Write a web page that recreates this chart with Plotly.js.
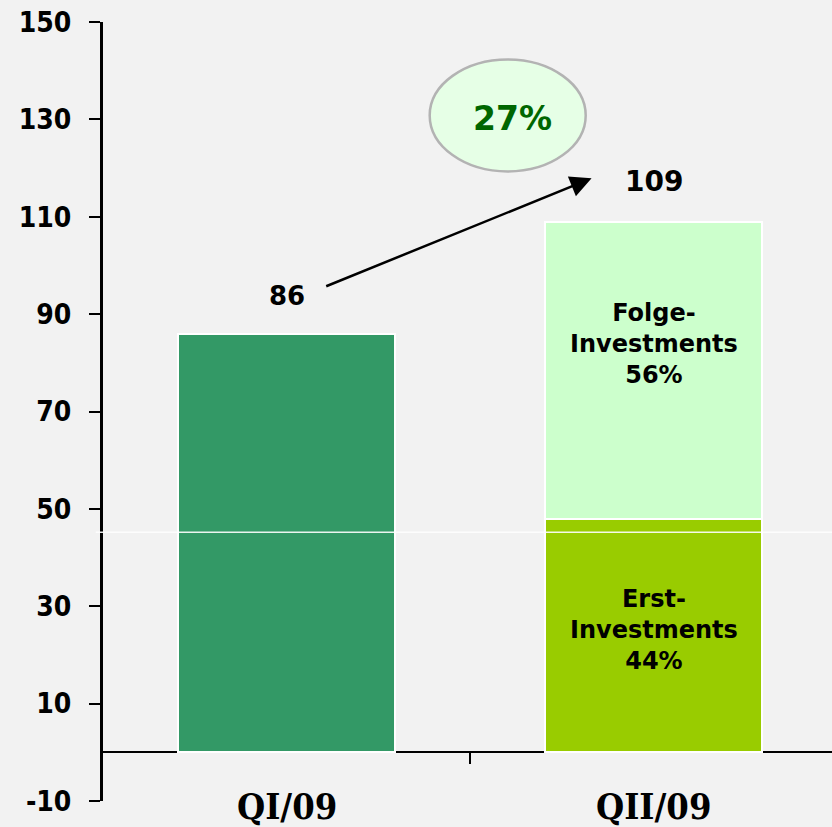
<!DOCTYPE html>
<html>
<head>
<meta charset="utf-8">
<script src="https://cdn.plot.ly/plotly-3.0.1.min.js"></script>
<style>html,body{margin:0;padding:0;background:#f2f2f2;}#chart{width:832px;height:827px;}</style>
</head>
<body>
<div id="chart"></div>
<script>
// Data
const categories = ['QI/09', 'QII/09'];
const qiTotal = [86, null];
const erstInvest = [null, 48];
const folgeInvest = [null, 61];
const totals = [86, 109];
const segmentLabels = ['Erst-<br>Investments<br>44%', 'Folge-<br>Investments<br>56%'];
const growthLabel = '27%';
const yTicks = [-10, 10, 30, 50, 70, 90, 110, 130, 150];
const yTickText = ['-10', '10', '30', '50', '70', '90', '110', '130', '150'];

const sansBold = 'DejaVu Sans';
const barLine = {color: '#ffffff', width: 2};

const traces = [
  {type: 'bar', x: categories, y: qiTotal, marker: {color: '#339966', line: barLine}, width: 0.59, hoverinfo: 'skip'},
  {type: 'bar', x: categories, y: erstInvest, marker: {color: '#99cc00', line: barLine}, width: 0.59, hoverinfo: 'skip'},
  {type: 'bar', x: categories, y: folgeInvest, marker: {color: '#ccffcc', line: barLine}, width: 0.59, hoverinfo: 'skip'},
  // helper trace for tick mark on zero line
  {type: 'scatter', x: [0.5], y: [0], xaxis: 'x2', yaxis: 'y', mode: 'markers', marker: {opacity: 0}, hoverinfo: 'skip', showlegend: false}
];

const annotations = [];
// category labels
categories.forEach(function (c, i) {
  annotations.push({x: i, y: 0, xref: 'x', yref: 'paper', text: c, showarrow: false, yanchor: 'middle', yshift: -5,
    font: {family: 'DejaVu Serif Condensed', size: 36, color: '#000', weight: 'bold'}});
});
// totals above bars
annotations.push({x: 0, y: totals[0], xref: 'x', yref: 'y', text: String(totals[0]), showarrow: false, yshift: 38,
  font: {family: sansBold, size: 26, color: '#000', weight: 'bold'}});
annotations.push({x: 1, y: totals[1], xref: 'x', yref: 'y', text: String(totals[1]), showarrow: false, yshift: 40,
  font: {family: sansBold, size: 28, color: '#000', weight: 'bold'}});
// segment labels
annotations.push({x: 1, y: erstInvest[1] / 2, xref: 'x', yref: 'y', text: segmentLabels[0], showarrow: false, yshift: 5,
  font: {family: sansBold, size: 24, color: '#000', weight: 'bold'}});
annotations.push({x: 1, y: erstInvest[1] + folgeInvest[1] / 2, xref: 'x', yref: 'y', text: segmentLabels[1], showarrow: false, yshift: 26,
  font: {family: sansBold, size: 24, color: '#000', weight: 'bold'}});
// growth arrow
annotations.push({x: 0.831, y: 117.9, ax: 0.104, ay: 95.6, xref: 'x', yref: 'y', axref: 'x', ayref: 'y',
  text: '', showarrow: true, arrowhead: 2, arrowsize: 1.7, arrowwidth: 2.5, arrowcolor: '#000', standoff: 0});
// growth label
annotations.push({x: 0.616, y: 130.2, xref: 'x', yref: 'y', text: growthLabel, showarrow: false,
  font: {family: sansBold, size: 33, color: '#006600', weight: 'bold'}});

const shapes = [
  {type: 'circle', xref: 'x', yref: 'y', x0: 0.390, x1: 0.815, y0: 119.3, y1: 142.3,
   fillcolor: '#e6ffe6', line: {color: '#b3b3b3', width: 2.5}, layer: 'above'},
  {type: 'line', xref: 'paper', yref: 'y', x0: -0.01, x1: 1, y0: 45.2, y1: 45.2,
   line: {color: '#ffffff', width: 1.5}, layer: 'above', opacity: 0.9}
];

const layout = {
  width: 832, height: 827,
  margin: {l: 103, r: 0, t: 22, b: 26, pad: 0},
  paper_bgcolor: '#f2f2f2', plot_bgcolor: '#f2f2f2',
  barmode: 'stack', showlegend: false,
  xaxis: {type: 'category', range: [-0.5, 1.486], showline: false, ticks: '', showgrid: false, zeroline: false,
    showticklabels: false},
  xaxis2: {overlaying: 'x', anchor: 'free', position: 0.0625, range: [-0.5, 1.486], tickvals: [0.5],
    ticks: 'outside', ticklen: 11, tickwidth: 2, tickcolor: '#000', showticklabels: false, showline: false,
    showgrid: false, zeroline: false},
  yaxis: {range: [-10, 150], tickvals: yTicks, ticktext: yTickText, ticks: 'outside', ticklen: 11, tickwidth: 2, tickcolor: '#000',
    showline: true, linecolor: '#000', linewidth: 3, showgrid: false,
    zeroline: true, zerolinecolor: '#000', zerolinewidth: 2,
    tickfont: {family: 'DejaVu Sans Condensed', size: 28, color: '#000', weight: 'bold'}, ticklabelstandoff: 12},
  annotations: annotations,
  shapes: shapes
};

Plotly.newPlot('chart', traces, layout, {displayModeBar: false, staticPlot: true});
</script>
</body>
</html>
